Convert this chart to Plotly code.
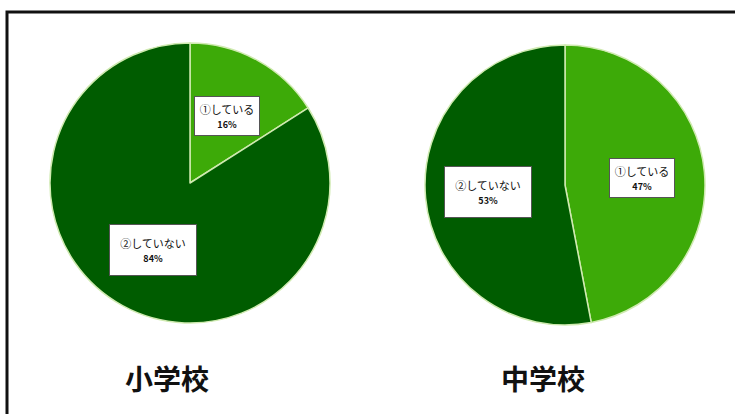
import math
import plotly.graph_objects as go

# Data
categories = ["①している", "②していない"]
elementary = [16, 84]
junior_high = [47, 53]
titles = ["小学校", "中学校"]

W, H = 735, 414
colors = ["#3daa08", "#005c00"]
font_family = "Noto Sans CJK JP, Noto Sans, sans-serif"

# pie geometry in pixels (center x, center y, radius)
pies = [
    dict(values=elementary, cx=190, cy=183, r=140, title=titles[0], tx=167),
    dict(values=junior_high, cx=565, cy=185, r=140, title=titles[1], tx=543),
]

fig = go.Figure()
annotations = []
for p in pies:
    fig.add_trace(go.Pie(
        labels=categories,
        values=p["values"],
        sort=False,
        direction="clockwise",
        rotation=0,
        textinfo="none",
        hoverinfo="label+percent",
        marker=dict(colors=colors, line=dict(color="#cfeab0", width=1.5)),
        showlegend=False,
        domain=dict(
            x=[(p["cx"] - p["r"]) / W, (p["cx"] + p["r"]) / W],
            y=[1 - (p["cy"] + p["r"]) / H, 1 - (p["cy"] - p["r"]) / H],
        ),
    ))
    total = sum(p["values"])
    cum = 0
    for lab, v in zip(categories, p["values"]):
        mid = (cum + v / 2) / total * 2 * math.pi
        cum += v
        frac = 0.55
        lx = p["cx"] + frac * p["r"] * math.sin(mid)
        ly = p["cy"] - frac * p["r"] * math.cos(mid)
        long = len(lab) > 5
        annotations.append(dict(
            x=lx / W, y=1 - ly / H, xref="paper", yref="paper",
            xanchor="center", yanchor="middle",
            text=f"{lab}<br><b><span style='font-size:9px'>{round(v / total * 100)}%</span></b>",
            showarrow=False,
            font=dict(family=font_family, size=11, color="#111111"),
            bgcolor="white",
            bordercolor="#555555",
            borderwidth=1,
            width=84 if long else 62,
            height=48 if long else 36,
            align="center",
            valign="middle",
        ))
    annotations.append(dict(
        x=p["tx"] / W, y=1 - 378 / H, xref="paper", yref="paper",
        text=f"<b>{p['title']}</b>", showarrow=False,
        font=dict(family=font_family, size=28, color="#111111"),
        xanchor="center", yanchor="middle",
    ))

fig.update_layout(
    width=W, height=H,
    margin=dict(l=0, r=0, t=0, b=0),
    paper_bgcolor="white",
    plot_bgcolor="white",
    annotations=annotations,
    shapes=[dict(
        type="rect", xref="paper", yref="paper",
        x0=7 / W, x1=1.05, y0=-0.05, y1=1 - 12 / H,
        line=dict(color="#111111", width=3),
        fillcolor="rgba(0,0,0,0)",
    )],
)

fig.write_html("out.html")
